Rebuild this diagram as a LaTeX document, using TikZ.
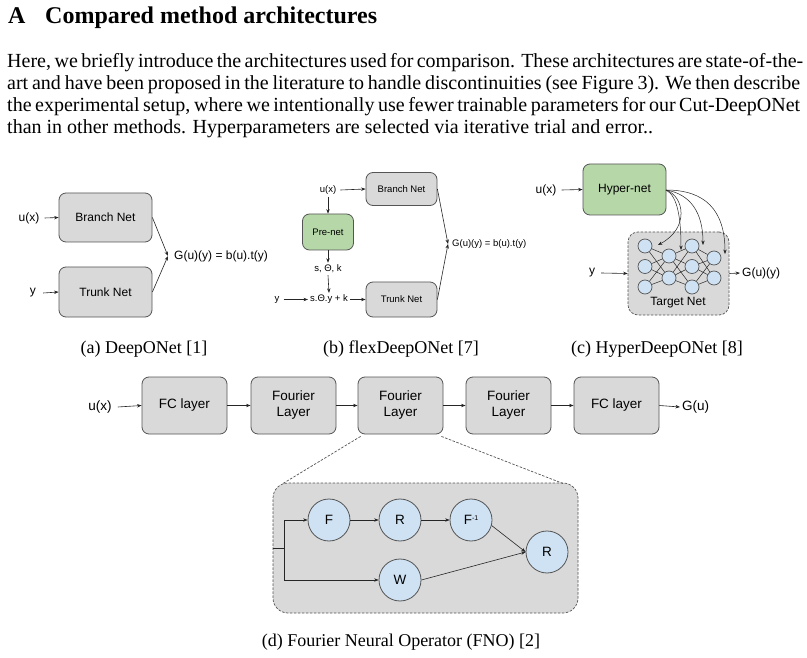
\documentclass[tikz,border=0pt]{standalone}
\usepackage{fontspec}
\setmainfont{Liberation Serif}
\newfontfamily\dsans{Liberation Sans}
\usetikzlibrary{arrows.meta}
\definecolor{boxgray}{HTML}{D9D9D9}
\definecolor{edgec}{HTML}{555555}
\definecolor{greenf}{HTML}{B6D7A8}
\definecolor{bluef}{HTML}{CFE2F3}
\tikzset{
 blk/.style={draw=edgec, fill=boxgray, rounded corners=7pt, line width=0.8pt, align=center, inner sep=0pt},
 gblk/.style={blk, fill=greenf},
 neur/.style={circle, draw=edgec, fill=bluef, line width=0.7pt, inner sep=0pt, minimum size=14pt},
 circ/.style={circle, draw=edgec, fill=bluef, line width=0.8pt, inner sep=0pt, minimum size=42pt},
 lbl/.style={inner sep=2pt},
 arr/.style={-{Stealth[length=4.5pt,width=3.4pt]}, line width=0.6pt, draw=black!85},
 ln/.style={line width=0.6pt, draw=black!85},
 dsh/.style={dash pattern=on 2.5pt off 1.5pt, line width=0.7pt, draw=edgec},
 fa/.style={font=\dsans\fontsize{12}{14}\selectfont},
 fb/.style={font=\dsans\fontsize{9.5}{11}\selectfont},
 fd/.style={font=\dsans\fontsize{13.5}{16}\selectfont},
 body/.style={anchor=base west, inner sep=0pt, font=\fontsize{20}{22}\selectfont},
 capt/.style={anchor=base, inner sep=0pt, font=\fontsize{18}{20}\selectfont},
}
\begin{document}
\begin{tikzpicture}[x=1pt,y=-1pt]
\useasboundingbox (0,0) rectangle (807,658);
\fill[white] (0,0) rectangle (807,658);

% heading and paragraph
\node[anchor=base west, inner sep=0pt, font=\fontsize{24}{28}\selectfont\bfseries] (hA) at (8,24) {A};
\node[anchor=base west, inner sep=0pt, font=\fontsize{24}{28}\selectfont\bfseries] (hT) at (45,24) {Compared method architectures};
\node[body] (p1) at (7,68) {\hbox to 793pt{Here, we briefly introduce the architectures used for comparison. These architectures are state-of-the-}};
\node[body] (p2) at (7,90) {\hbox to 793pt{art and have been proposed in the literature to handle discontinuities (see Figure 3). We then describe}};
\node[body] (p3) at (7,112) {\hbox to 793pt{the experimental setup, where we intentionally use fewer trainable parameters for our Cut-DeepONet}};
\node[body] (p4) at (7,134) {than in other methods. Hyperparameters are selected via iterative trial and error..};

% (a) DeepONet
\begin{scope}[fa]
\node[blk, minimum width=93pt, minimum height=49pt] (abr) at (105.5,217.5) {Branch Net};
\node[blk, minimum width=93pt, minimum height=50pt] (atr) at (105.5,292) {Trunk Net};
\node[lbl] (aux) at (29,218) {u(x)};
\node[lbl] (ay) at (33,293) {y};
\coordinate (aj) at (168,256);
\node[lbl, anchor=west] (aG) at (172,256) {G(u)(y) = b(u).t(y)};
\draw[arr] (aux.east) ++(3pt,0) -- (abr.west);
\draw[arr] (ay.east) ++(5pt,0) -- (atr.west);
\draw[arr] (abr.east) -- (aj);
\draw[arr] (atr.east) -- (aj);
\end{scope}

% (b) flexDeepONet
\begin{scope}[fb]
\node[blk, minimum width=71pt, minimum height=33pt] (bbr) at (401.5,189) {Branch Net};
\node[blk, minimum width=71pt, minimum height=35pt] (btr) at (401.5,299.5) {Trunk Net};
\node[gblk, minimum width=51pt, minimum height=36pt] (bpre) at (328,232) {Pre-net};
\node[lbl] (bux) at (328,190) {u(x)};
\node[lbl] (bstk) at (328,269) {s, Θ, k};
\node[lbl] (bsty) at (329,299.5) {s.Θ.y + k};
\node[lbl] (by) at (277,299.5) {y};
\coordinate (bj) at (448,244);
\node[lbl, anchor=west] (bG) at (450,244) {G(u)(y) = b(u).t(y)};
\draw[arr] (bux.east) ++(2pt,0) -- (bbr.west);
\draw[arr] (bux.south) -- (bpre.north);
\draw[arr] (bpre.south) -- (bstk.north);
\draw[arr] (bstk.south) -- (bsty.north);
\draw[arr] (by.east) ++(2pt,0) -- (bsty.west);
\draw[arr] (bsty.east) -- (btr.west);
\draw[arr] (bbr.east) -- (bj);
\draw[arr] (btr.east) -- (bj);
\end{scope}

% (c) HyperDeepONet
\begin{scope}[fa]
\node[gblk, minimum width=83pt, minimum height=51pt] (chy) at (624.5,189.5) {Hyper-net};
\node[blk, dsh, fill=boxgray, rounded corners=10pt, minimum width=101pt, minimum height=83pt] (ctg) at (678.5,273.5) {};
\node[inner sep=0pt] (ctgl) at (678,303) {Target Net};
\node[lbl] (cux) at (546,190) {u(x)};
\node[lbl] (cy) at (592,273) {y};
\node[lbl, anchor=west] (cG) at (740,273) {G(u)(y)};
\node[neur] (n1a) at (645,246) {};
\node[neur] (n1b) at (645,266.5) {};
\node[neur] (n1c) at (645,287) {};
\node[neur] (n2a) at (669,256) {};
\node[neur] (n2b) at (669,278) {};
\node[neur] (n3a) at (692,246) {};
\node[neur] (n3b) at (692,266.5) {};
\node[neur] (n3c) at (692,287) {};
\node[neur] (n4a) at (714,258) {};
\node[neur] (n4b) at (714,278) {};
\foreach \s in {n1a,n1b,n1c}{\foreach \t in {n2a,n2b}{\draw[ln, line width=0.5pt] (\s) -- (\t);}}
\foreach \s in {n2a,n2b}{\foreach \t in {n3a,n3b,n3c}{\draw[ln, line width=0.5pt] (\s) -- (\t);}}
\foreach \s in {n3a,n3b,n3c}{\foreach \t in {n4a,n4b}{\draw[ln, line width=0.5pt] (\s) -- (\t);}}
\draw[arr] (cux.east) ++(3pt,0) -- (chy.west);
\draw[arr] (cy.east) ++(4pt,0) -- (ctg.west);
\draw[arr] (ctg.east) -- (cG.west);
\coordinate (ch0) at (666,190);
\coordinate (ch1) at (658,245);
\coordinate (ch2) at (681,250);
\coordinate (ch3) at (703,245);
\coordinate (ch4) at (725,254);
\draw[arr, line width=0.5pt] (ch0) .. controls (684,196) and (690,228) .. (ch1);
\draw[arr, line width=0.5pt] (ch0) .. controls (678,196) and (681,220) .. (ch2);
\draw[arr, line width=0.5pt] (ch0) .. controls (690,194) and (703,212) .. (ch3);
\draw[arr, line width=0.5pt] (ch0) .. controls (705,190) and (725,210) .. (ch4);
\end{scope}

% captions
\node[capt] (capa) at (144,353) {(a) DeepONet [1]};
\node[capt] (capb) at (401,353) {(b) flexDeepONet [7]};
\node[capt] (capc) at (657,353) {(c) HyperDeepONet [8]};
\node[capt] (capd) at (401,646) {(d) Fourier Neural Operator (FNO) [2]};

% (d) FNO
\begin{scope}[fd]
\node[lbl] (dux) at (100,407) {u(x)};
\node[blk, minimum width=85pt, minimum height=57pt] (d1) at (184.5,405.5) {FC layer};
\node[blk, minimum width=85pt, minimum height=57pt] (d2) at (293.5,405.5) {Fourier\\Layer};
\node[blk, minimum width=85pt, minimum height=57pt] (d3) at (400.5,405.5) {Fourier\\Layer};
\node[blk, minimum width=85pt, minimum height=57pt] (d4) at (508.5,405.5) {Fourier\\Layer};
\node[blk, minimum width=85pt, minimum height=57pt] (d5) at (616.5,405.5) {FC layer};
\node[lbl, anchor=west] (dG) at (680,407) {G(u)};
\draw[arr] (dux.east) ++(4pt,0) -- (d1.west);
\draw[arr] (d1) -- (d2);
\draw[arr] (d2) -- (d3);
\draw[arr] (d3) -- (d4);
\draw[arr] (d4) -- (d5);
\draw[arr] (d5.east) -- (dG.west);

\node[blk, dsh, fill=boxgray, rounded corners=15pt, minimum width=305pt, minimum height=130pt] (dz) at (425.5,548) {};
\coordinate (dzl) at (283,483.5);
\coordinate (dzr) at (563,483.5);
\draw[dsh] ([shift={(3pt,-2pt)}]d3.south west) -- (dzl);
\draw[dsh] ([shift={(-2pt,-2pt)}]d3.south east) -- (dzr);

\node[circ] (cF) at (329,520) {F};
\node[circ] (cR) at (400,520) {R};
\node[circ] (cFi) at (471,520) {F\raisebox{0.6ex}{\fontsize{7}{8}\selectfont -1}};
\node[circ] (cR2) at (547,552) {R};
\node[circ] (cW) at (400,580) {W};
\coordinate (dsplit) at (284,548);
\coordinate (dtop) at (284,520);
\coordinate (dbot) at (284,580);
\draw[ln] (dz.west) -- (dsplit);
\draw[ln] (dtop) -- (dbot);
\draw[arr] (dtop) -- (cF.west);
\draw[arr] (dbot) -- (cW.west);
\draw[arr] (cF) -- (cR);
\draw[arr] (cR) -- (cFi);
\draw[arr] (cFi.-15) -- (cR2.west);
\draw[arr] (cW.east) -- (cR2.west);
\end{scope}
\end{tikzpicture}
\end{document}
